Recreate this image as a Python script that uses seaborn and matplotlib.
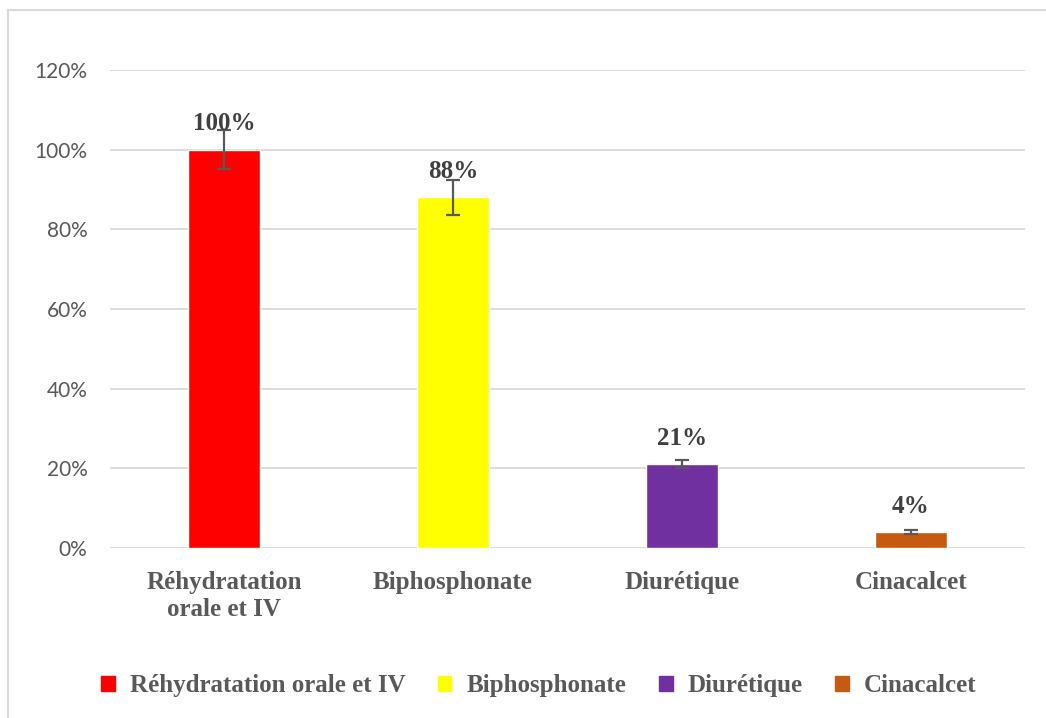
import pandas as pd
import matplotlib.pyplot as plt
import seaborn as sns
from matplotlib.patches import Rectangle
from matplotlib.ticker import PercentFormatter

categories = ['Réhydratation orale et IV', 'Biphosphonate', 'Diurétique', 'Cinacalcet']
tick_labels = ['Réhydratation\norale et IV', 'Biphosphonate', 'Diurétique', 'Cinacalcet']
values = [100, 88, 21, 4]
errors = [5, 4.4, 1, 0.5]
colors = ['#FF0000', '#FFFF00', '#7030A0', '#C55A11']

df = pd.DataFrame({'traitement': categories, 'pct': values})

sns.set_style('white')
fig = plt.figure(figsize=(10.46, 7.18), dpi=100)
ax = fig.add_axes([0.105, 0.237, 0.875, 0.6657])

sns.barplot(data=df, x='traitement', y='pct', hue='traitement',
            palette=colors, width=0.315, saturation=1, legend=False, ax=ax)
ax.errorbar(range(len(values)), values, yerr=errors, fmt='none',
            ecolor='#595959', elinewidth=1.6, capsize=5, capthick=1.6, zorder=4)

for i, v in enumerate(values):
    ax.annotate(f'{v}%', (i, v), xytext=(0, 18.5), textcoords='offset points',
                ha='center', va='center', fontsize=18, fontweight='bold',
                family='Liberation Serif', color='#404040', zorder=5)

ax.set_ylim(0, 120)
ax.set_xlim(-0.5, 3.5)
ax.set_yticks(range(0, 121, 20))
ax.yaxis.set_major_formatter(PercentFormatter(decimals=0))
ax.grid(axis='y', color='#D9D9D9', linewidth=1.3)
ax.set_axisbelow(True)
for s in ax.spines.values():
    s.set_visible(False)
ax.set_xlabel('')
ax.set_ylabel('')
ax.set_xticks(range(len(tick_labels)))
ax.set_xticklabels(tick_labels, fontsize=18, fontweight='bold',
                   family='Liberation Serif', color='#595959', linespacing=1.2)
ax.tick_params(axis='x', length=0, pad=17)
ax.tick_params(axis='y', length=0, pad=16, labelsize=15, labelcolor='#595959')
for t in ax.get_yticklabels():
    t.set_family('Lato')

handles = [Rectangle((0, 0), 1, 1, color=c) for c in colors]
fig.legend(handles, categories, loc='center', bbox_to_anchor=(0.515, 0.045),
           ncol=4, frameon=False, handlelength=0.55, handleheight=0.55,
           handletextpad=0.6, columnspacing=1.3,
           prop={'family': 'Liberation Serif', 'weight': 'bold', 'size': 18},
           labelcolor='#595959')

fig.patches.append(Rectangle((8 / 1046, -0.05), 1.2, 1 - 10 / 718 + 0.05,
                             transform=fig.transFigure, fill=False,
                             edgecolor='#D9D9D9', linewidth=1.5))

plt.savefig('out.png', dpi=100)
